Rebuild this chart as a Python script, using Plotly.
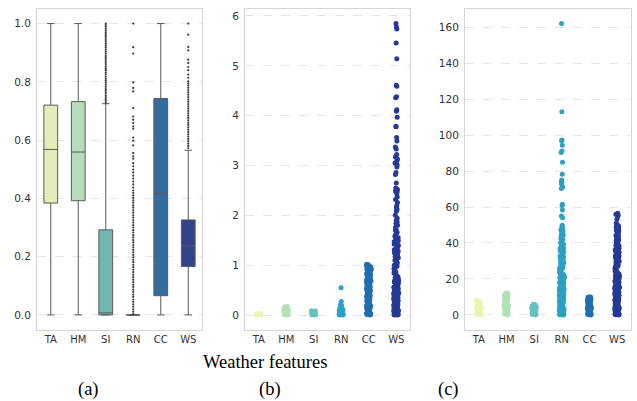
import colorsys
import plotly.graph_objects as go

features = ["TA", "HM", "SI", "RN", "CC", "WS"]

# ---------- (a) normalised box statistics ----------
box_q1 = [0.384, 0.392, 0.0, 0.0, 0.066, 0.166]
box_median = [0.568, 0.559, 0.007, 0.0, 0.418, 0.237]
box_q3 = [0.720, 0.732, 0.292, 0.0, 0.743, 0.326]
box_low = [0.0, 0.0, 0.0, 0.0, 0.0, 0.0]
box_high = [1.0, 1.0, 0.725, 0.0, 1.0, 0.565]

out_SI = [0.728, 0.735, 0.741, 0.748, 0.754, 0.762, 0.769, 0.775, 0.783, 0.790, 0.797,
          0.804, 0.811, 0.818, 0.826, 0.833, 0.840, 0.846, 0.853, 0.861, 0.868, 0.875,
          0.882, 0.889, 0.897, 0.904, 0.911, 0.918, 0.925, 0.932, 0.940, 0.947, 0.954,
          0.961, 0.968, 0.975, 0.982, 0.989, 0.995, 1.0]
out_RN = [0.003, 0.011, 0.019, 0.028, 0.036, 0.045, 0.053, 0.062, 0.070, 0.079, 0.087,
          0.096, 0.104, 0.113, 0.121, 0.130, 0.138, 0.147, 0.155, 0.164, 0.172, 0.181,
          0.189, 0.198, 0.206, 0.215, 0.223, 0.232, 0.240, 0.249, 0.257, 0.266, 0.274,
          0.283, 0.291, 0.300, 0.308, 0.317, 0.325, 0.334, 0.342, 0.351, 0.359, 0.368,
          0.376, 0.385, 0.393, 0.402, 0.410, 0.419, 0.427, 0.437, 0.448, 0.458, 0.468,
          0.478, 0.489, 0.499, 0.510, 0.521, 0.536, 0.544, 0.556, 0.582, 0.598, 0.609,
          0.639, 0.647, 0.659, 0.670, 0.681, 0.710, 0.767, 0.779, 0.798, 0.897, 0.919, 1.0]
out_WS = [0.572, 0.580, 0.588, 0.596, 0.604, 0.612, 0.620, 0.628, 0.636, 0.644, 0.652,
          0.660, 0.668, 0.676, 0.684, 0.692, 0.700, 0.708, 0.716, 0.724, 0.732, 0.740,
          0.748, 0.756, 0.764, 0.772, 0.780, 0.788, 0.795, 0.802, 0.814, 0.825, 0.840,
          0.851, 0.865, 0.876, 0.908, 0.920, 0.962, 1.0]

# ---------- (b) standardised values ----------
b_TA = [0.0, 0.004, 0.008, 0.012, 0.016, 0.02, 0.024, 0.028, 0.03, 0.002, 0.01, 0.018, 0.026]
b_HM = [0.0, 0.01, 0.02, 0.03, 0.04, 0.05, 0.06, 0.07, 0.08, 0.09, 0.1, 0.11, 0.12, 0.13,
        0.14, 0.15, 0.16, 0.17, 0.005, 0.025, 0.045, 0.065, 0.085, 0.105, 0.125, 0.145, 0.165]
b_SI = [0.0, 0.01, 0.02, 0.03, 0.04, 0.05, 0.06, 0.07, 0.08, 0.085, 0.005, 0.025, 0.045, 0.065]
b_RN = [0.55, 0.27, 0.21, 0.2, 0.19, 0.17, 0.15, 0.13, 0.12, 0.11, 0.1, 0.08, 0.07, 0.06,
        0.05, 0.04, 0.03, 0.02, 0.01, 0.0, 0.0, 0.015, 0.035, 0.055, 0.09, 0.14]
b_CC = [0.0, 0.02, 0.04, 0.06, 0.08, 0.1, 0.12, 0.14, 0.16, 0.18, 0.2, 0.22, 0.24, 0.26,
        0.28, 0.3, 0.32, 0.34, 0.36, 0.38, 0.4, 0.42, 0.44, 0.46, 0.48, 0.5, 0.52, 0.54,
        0.56, 0.58, 0.6, 0.62, 0.64, 0.66, 0.68, 0.7, 0.72, 0.74, 0.76, 0.78, 0.8, 0.82,
        0.84, 0.86, 0.88, 0.9, 0.92, 0.94, 0.96, 0.98, 1.0, 1.02, 0.01, 0.11, 0.23, 0.37,
        0.49, 0.61, 0.73, 0.87, 0.97, 0.05, 0.29, 0.53, 0.77, 1.01, 0.03, 0.15, 0.27, 0.41,
        0.57, 0.69, 0.83, 0.93, 0.07, 0.19, 0.33, 0.45, 0.65, 0.79, 0.91, 0.99]
b_WS = [5.85, 5.78, 5.74, 5.46, 5.14, 4.61, 4.59, 4.38, 4.36, 4.12, 4.09, 3.97, 3.79, 3.78,
        3.56, 3.49, 3.37, 3.33, 3.22, 3.17, 3.13, 3.09, 3.05, 3.01, 2.97, 2.86, 2.82, 2.65,
        2.55, 2.52, 2.49, 2.47, 2.44, 2.37, 2.32, 2.26, 2.2, 2.16, 2.12, 2.08, 2.0, 1.94,
        1.9, 1.87, 1.84, 1.8, 1.76, 1.72, 1.7, 1.66, 1.62, 1.58, 1.55, 1.52, 1.49, 1.45,
        1.42, 1.38, 1.35, 1.31, 1.28, 1.25, 1.21, 1.18, 1.15, 1.12, 1.08, 1.05, 1.02, 0.98,
        0.95, 0.92, 0.9, 0.87, 0.84, 0.81, 0.78, 0.75, 0.72, 0.69, 0.66, 0.63, 0.6, 0.58,
        0.56, 0.54, 0.52, 0.5, 0.48, 0.46, 0.44, 0.42, 0.4, 0.38, 0.36, 0.34, 0.32, 0.3,
        0.28, 0.26, 0.24, 0.22, 0.2, 0.18, 0.16, 0.14, 0.12, 0.1, 0.08, 0.06, 0.04, 0.02,
        0.0, 0.01, 0.03, 0.05, 0.07, 0.09, 0.11, 0.13, 0.15, 0.17, 0.19, 0.21, 0.25, 0.29,
        0.33, 0.37, 0.41, 0.45, 0.49, 0.53, 0.57, 0.0, 0.02, 0.06, 0.1, 0.15, 0.23, 0.31,
        0.39, 0.47, 1.1, 1.33, 1.47, 1.6, 0.93, 0.77, 0.01, 0.05, 0.09, 0.13, 0.19, 0.27,
        0.35, 0.43, 0.51, 0.59, 0.68, 0.86, 1.0, 1.17, 1.26, 1.4, 1.53]

# ---------- (c) raw values ----------
c_TA = [0.0, 0.5, 1.0, 1.5, 2.0, 2.5, 3.0, 3.5, 4.0, 4.5, 5.0, 5.5, 6.0, 6.5, 7.0, 7.5,
        8.0, 0.2, 1.2, 2.2, 3.2, 4.2, 5.2, 6.2, 7.2, 7.8, 0.7, 2.7, 4.7, 6.7]
c_HM = [0.0, 0.5, 1.0, 1.5, 2.0, 2.5, 3.0, 3.5, 4.0, 4.5, 5.0, 5.5, 6.0, 6.5, 7.0, 7.5,
        8.0, 8.5, 9.0, 9.5, 10.0, 10.5, 11.0, 11.5, 12.0, 12.2, 0.8, 2.8, 4.8, 6.8, 8.8, 10.8,
        1.8, 3.8, 5.8, 7.8, 9.8, 11.3]
c_SI = [0.0, 0.5, 1.0, 1.5, 2.0, 2.5, 3.0, 3.5, 4.0, 4.5, 5.0, 5.5, 5.8, 6.0, 0.3, 1.3,
        2.3, 3.3, 4.3, 5.3, 0.8, 2.8, 4.8]
c_RN = [162.0, 113.0, 97.3, 96.8, 94.4, 91.2, 90.3, 84.9, 78.2, 75.0, 74.0, 73.6, 73.0,
        71.2, 70.3, 61.5, 60.8, 58.4, 55.0, 54.1, 49.9, 49.2, 48.0, 47.3, 46.5, 45.1, 44.2,
        43.5, 42.6, 41.2, 40.3, 39.5, 38.1, 37.4, 36.2, 35.0, 34.3, 33.1, 32.4, 31.2, 30.5,
        29.6, 28.8, 27.9, 27.1, 26.3, 25.4, 24.6, 23.8, 23.0, 22.3, 21.5, 20.7, 20.0, 19.3,
        18.6, 17.9, 17.2, 16.5, 15.8, 15.1, 14.4, 13.7, 13.0, 12.3, 11.6, 10.9, 10.2, 9.5,
        8.8, 8.1, 7.4, 6.7, 6.0, 5.3, 4.6, 3.9, 3.2, 2.5, 1.8, 1.1, 0.4, 0.0, 0.5, 1.5,
        2.0, 3.0, 4.0, 5.0, 6.5, 8.0, 9.0, 10.5, 12.0, 14.0, 16.0, 18.0, 20.5, 22.5, 24.5,
        26.8, 28.4, 30.0, 32.8, 35.5, 38.8, 41.8, 44.8, 47.8, 0.2, 1.3, 2.8, 4.2, 5.7, 7.1,
        8.5, 9.9, 11.3, 12.7, 14.9, 17.5, 19.8, 21.9, 24.0, 26.0, 0.1, 0.9, 1.9, 3.5, 5.1,
        6.3, 7.8, 9.2, 10.7, 12.1, 13.5, 15.5, 17.0, 19.0, 21.0, 23.4, 25.8, 29.0, 31.8,
        34.8, 37.0, 40.0, 43.0, 46.0]
c_CC = [0.0, 0.5, 1.0, 1.5, 2.0, 2.5, 3.0, 3.5, 4.0, 4.5, 5.0, 5.5, 6.0, 6.5, 7.0, 7.5,
        8.0, 8.5, 9.0, 9.5, 10.0, 0.2, 1.2, 2.2, 3.2, 4.2, 5.2, 6.2, 7.2, 8.2, 9.2, 9.8,
        0.7, 2.7, 4.7, 6.7, 8.7, 10.0]
c_WS = [56.5, 56.0, 55.6, 54.8, 53.2, 51.0, 50.2, 49.5, 48.8, 48.1, 47.4, 46.7, 46.0, 45.3,
        44.6, 43.9, 43.2, 42.5, 41.8, 41.1, 40.4, 39.7, 39.0, 38.3, 37.6, 36.9, 36.2, 35.5,
        34.8, 34.1, 33.4, 32.7, 32.0, 31.3, 30.6, 29.9, 29.2, 28.5, 27.8, 27.1, 26.4, 25.7,
        25.0, 24.3, 23.6, 22.9, 22.2, 21.5, 20.8, 20.1, 19.4, 18.7, 18.0, 17.3, 16.6, 15.9,
        15.2, 14.5, 13.8, 13.1, 12.4, 11.7, 11.0, 10.3, 9.6, 8.9, 8.2, 7.5, 6.8, 6.1, 5.4,
        4.7, 4.0, 3.3, 2.6, 1.9, 1.2, 0.5, 0.0, 0.8, 2.2, 3.6, 5.0, 6.4, 7.8, 9.2, 10.6,
        12.0, 13.4, 14.8, 16.2, 17.6, 19.0, 20.4, 21.8, 23.2, 24.6, 26.0, 28.0, 30.3, 33.0,
        35.9, 38.6, 41.5, 44.2, 47.0, 50.0, 0.3, 1.6, 3.0, 4.4, 5.8, 7.2, 8.6, 10.0, 11.4,
        12.8, 14.1, 15.5, 16.9, 18.3, 0.1, 1.0, 2.0, 3.9, 5.9, 8.0, 9.9, 11.8, 13.7, 15.7,
        17.8, 19.9, 22.0, 24.2, 27.0, 29.6, 31.9, 34.6, 37.2, 40.1, 42.8, 45.6, 48.4]

# ---------- styling ----------
PALETTE = ["#e8f6b1", "#b2e1b6", "#64c3bf", "#2ca1c2", "#216daf", "#253a97"]
LINE_GRAY = "#5a5a5a"


def desaturate(hexc, factor=0.75):
    r, g, b = (int(hexc[i:i + 2], 16) / 255 for i in (1, 3, 5))
    h, l, s = colorsys.rgb_to_hls(r, g, b)
    r, g, b = colorsys.hls_to_rgb(h, l, s * factor)
    return "rgb(%d,%d,%d)" % (round(r * 255), round(g * 255), round(b * 255))


fig = go.Figure()

# (a) boxes
for i, feat in enumerate(features):
    fig.add_trace(go.Box(
        x=[feat], q1=[box_q1[i]], median=[box_median[i]], q3=[box_q3[i]],
        lowerfence=[box_low[i]], upperfence=[box_high[i]],
        boxpoints=False, width=0.5, whiskerwidth=0.55,
        fillcolor=desaturate(PALETTE[i]), line=dict(color=LINE_GRAY, width=1),
        xaxis="x", yaxis="y", showlegend=False, hoverinfo="skip"))

for feat, vals in (("SI", out_SI), ("RN", out_RN), ("WS", out_WS)):
    fig.add_trace(go.Scatter(
        x=[feat] * len(vals), y=vals, mode="markers",
        marker=dict(size=2.2, color="#3a3a3a"),
        xaxis="x", yaxis="y", showlegend=False, hoverinfo="skip"))

# (b) and (c) strip plots
strips_b = [b_TA, b_HM, b_SI, b_RN, b_CC, b_WS]
strips_c = [c_TA, c_HM, c_SI, c_RN, c_CC, c_WS]
for ax, strips in (("2", strips_b), ("3", strips_c)):
    for i, feat in enumerate(features):
        vals = strips[i]
        fig.add_trace(go.Box(
            x=[feat] * len(vals), y=vals, boxpoints="all", jitter=0.38, pointpos=0,
            width=0.5, fillcolor="rgba(0,0,0,0)",
            line=dict(color="rgba(0,0,0,0)", width=0),
            marker=dict(color=PALETTE[i], size=5, opacity=1),
            xaxis="x" + ax, yaxis="y" + ax, showlegend=False, hoverinfo="skip"))

W, H = 637, 401
ydom = [1 - 329.5 / H, 1 - 9.0 / H]
tickfont = dict(family="DejaVu Sans", size=10.5, color="#333333")
xbase = dict(type="category", categoryorder="array", categoryarray=features,
             range=[-0.5, 5.5], showgrid=False, zeroline=False, showline=True,
             linecolor="#d6d6d6", linewidth=1, mirror=True, ticks="",
             tickfont=dict(family="DejaVu Sans", size=10, color="#333333"),
             fixedrange=True)
ybase = dict(showgrid=True, gridcolor="#e6e6e6", griddash="dash", gridwidth=1,
             zeroline=False, showline=True, linecolor="#d6d6d6", linewidth=1,
             mirror=True, ticks="", tickfont=tickfont, domain=ydom,
             ticklabelstandoff=3)

fig.update_layout(
    width=W, height=H, margin=dict(l=0, r=0, t=0, b=0),
    paper_bgcolor="white", plot_bgcolor="white", boxmode="overlay",
    xaxis=dict(xbase, domain=[37 / W, 202 / W], anchor="y"),
    xaxis2=dict(xbase, domain=[245 / W, 410 / W], anchor="y2"),
    xaxis3=dict(xbase, domain=[465 / W, 631 / W], anchor="y3"),
    yaxis=dict(ybase, anchor="x", range=[-0.05, 1.05],
               tickvals=[0, 0.2, 0.4, 0.6, 0.8, 1.0], tickformat=".1f"),
    yaxis2=dict(ybase, anchor="x2", range=[-0.29, 6.14], dtick=1),
    yaxis3=dict(ybase, anchor="x3", range=[-8.1, 170.1], dtick=20),
)

serif = dict(family="Liberation Serif, Times New Roman, serif", size=18.5, color="black")
fig.add_annotation(text="Weather features", x=265 / W, y=1 - 362 / H, xref="paper",
                   yref="paper", showarrow=False, font=serif, xanchor="center",
                   yanchor="middle")
for label, xc in (("(a)", 88), ("(b)", 270), ("(c)", 448)):
    fig.add_annotation(text=label, x=xc / W, y=1 - 389 / H, xref="paper", yref="paper",
                       showarrow=False, font=serif, xanchor="center", yanchor="middle")

fig.write_html("out.html", config={"displayModeBar": False},
               post_script="document.body.style.margin='0';"
                           "document.body.style.overflow='hidden';")
